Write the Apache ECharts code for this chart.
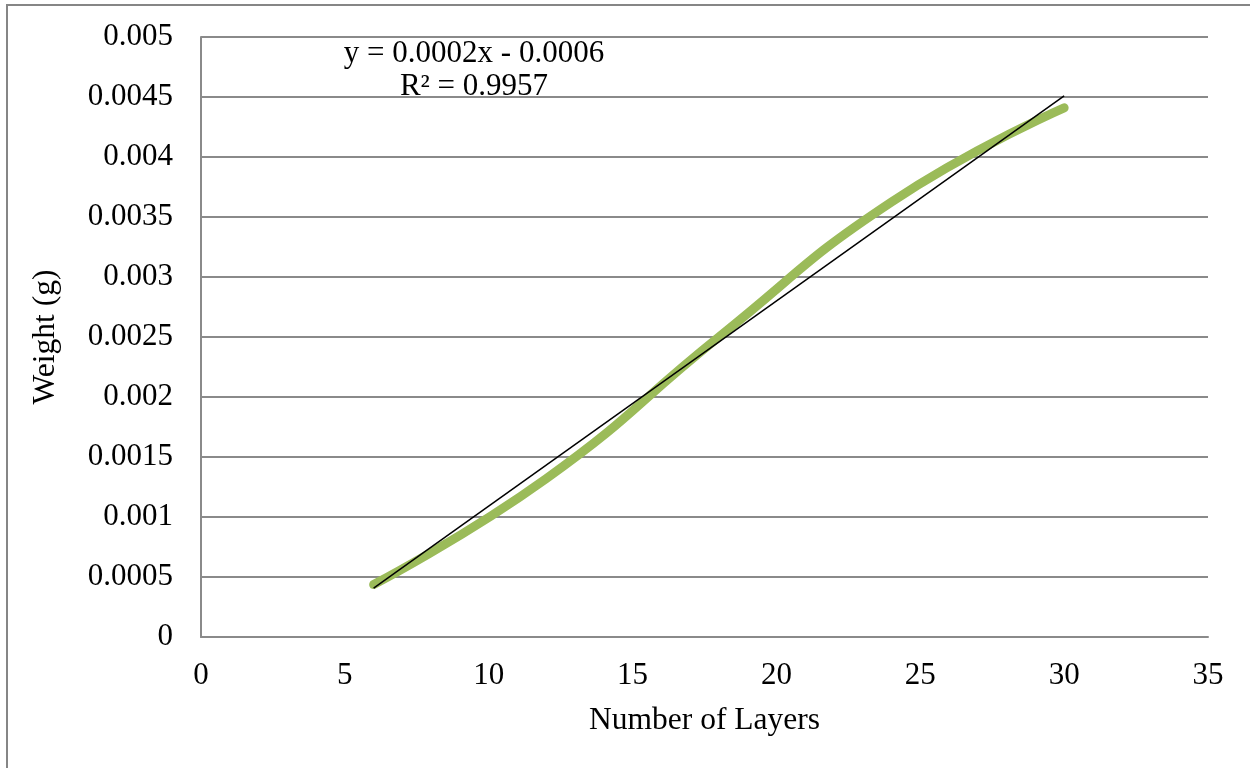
<!DOCTYPE html>
<html>
<head>
<meta charset="utf-8">
<title>Weight vs Number of Layers</title>
<script src="https://cdn.jsdelivr.net/npm/echarts@6/dist/echarts.min.js"></script>
<style>
  html, body { margin: 0; padding: 0; background: #fff; }
  #chart { width: 1250px; height: 768px; }
</style>
</head>
<body>
<div id="chart"></div>
<script>
// Measured weight per number of layers
const layers = [6, 12, 18, 24, 30];
const weights = [0.000437, 0.00132, 0.0025, 0.003625, 0.00441];

// Axis tick settings
const xTicks = [0, 5, 10, 15, 20, 25, 30, 35];
const yTicks = [0, 0.0005, 0.001, 0.0015, 0.002, 0.0025, 0.003, 0.0035, 0.004, 0.0045, 0.005];

const xName = 'Number of Layers';
const yName = 'Weight (g)';

// Least-squares linear trend of weight on layers
function linearFit(xs, ys) {
  const n = xs.length;
  const mx = xs.reduce((a, b) => a + b, 0) / n;
  const my = ys.reduce((a, b) => a + b, 0) / n;
  let sxy = 0, sxx = 0, syy = 0;
  for (let i = 0; i < n; i++) {
    sxy += (xs[i] - mx) * (ys[i] - my);
    sxx += (xs[i] - mx) * (xs[i] - mx);
    syy += (ys[i] - my) * (ys[i] - my);
  }
  const slope = sxy / sxx;
  const intercept = my - slope * mx;
  const r2 = (sxy * sxy) / (sxx * syy);
  return { slope, intercept, r2 };
}

const fit = linearFit(layers, weights);
const xMin = layers[0], xMax = layers[layers.length - 1];
const trendData = [
  [xMin, fit.intercept + fit.slope * xMin],
  [xMax, fit.intercept + fit.slope * xMax]
];
const sign = fit.intercept < 0 ? ' - ' : ' + ';
const eqText = 'y = ' + fit.slope.toFixed(4) + 'x' + sign + Math.abs(fit.intercept).toFixed(4);
const r2Text = 'R\u00B2 = ' + fit.r2.toFixed(4);

const font = '"Liberation Serif", "Times New Roman", serif';
const gridColor = '#8a8a8a';

const chart = echarts.init(document.getElementById('chart'), null, { renderer: 'canvas' });

chart.setOption({
  animation: false,
  backgroundColor: '#ffffff',
  grid: { left: 201, right: 42, top: 37, bottom: 131, containLabel: false },
  graphic: [
    {
      type: 'rect',
      silent: true,
      shape: { x: 7, y: 5, width: 1400, height: 1000 },
      style: { fill: 'none', stroke: '#868686', lineWidth: 2 }
    },
    {
      type: 'text',
      x: 474,
      y: 37,
      style: {
        text: eqText + '\n' + r2Text,
        fill: '#000',
        font: '31px ' + font,
        align: 'center',
        verticalAlign: 'top',
        lineHeight: 33
      }
    }
  ],
  xAxis: {
    type: 'value',
    min: xTicks[0],
    max: xTicks[xTicks.length - 1],
    interval: xTicks[1] - xTicks[0],
    name: xName,
    nameLocation: 'middle',
    nameGap: 68,
    nameTextStyle: { color: '#000', fontFamily: font, fontSize: 31.5 },
    axisLine: { show: true, onZero: false, lineStyle: { color: gridColor, width: 2 } },
    axisTick: { show: false },
    splitLine: { show: false },
    axisLabel: { color: '#000', fontFamily: font, fontSize: 31, margin: 23 }
  },
  yAxis: {
    type: 'value',
    min: yTicks[0],
    max: yTicks[yTicks.length - 1],
    interval: yTicks[1] - yTicks[0],
    name: yName,
    nameLocation: 'middle',
    nameGap: 139,
    nameTextStyle: { color: '#000', fontFamily: font, fontSize: 31.5 },
    axisLine: { show: true, lineStyle: { color: gridColor, width: 2 } },
    axisTick: { show: false },
    splitLine: { show: true, lineStyle: { color: gridColor, width: 2 } },
    axisLabel: {
      color: '#000', fontFamily: font, fontSize: 31, margin: 28,
      formatter: v => String(+v.toFixed(4))
    }
  },
  series: [
    {
      name: 'Weight',
      type: 'line',
      data: layers.map((x, i) => [x, weights[i]]),
      smooth: 0.5,
      symbol: 'none',
      lineStyle: { color: '#9BBB59', width: 9, cap: 'round', join: 'round' },
      z: 2
    },
    {
      name: 'Linear trend',
      type: 'line',
      data: trendData,
      symbol: 'none',
      lineStyle: { color: '#000', width: 1.5 },
      z: 3
    }
  ]
});
</script>
</body>
</html>
